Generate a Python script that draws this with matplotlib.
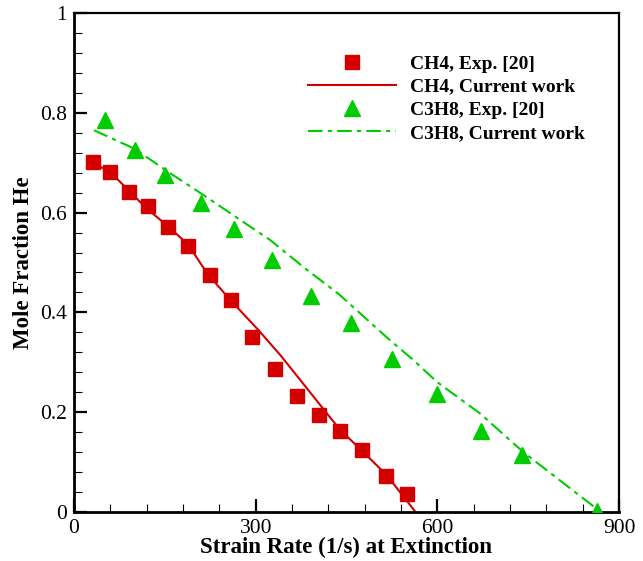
import matplotlib
matplotlib.use("Agg")
import matplotlib.pyplot as plt
from matplotlib.ticker import MultipleLocator

plt.rcParams['font.family'] = ['Liberation Serif', 'DejaVu Serif']

# CH4 experiment (squares)
ch4_exp_x = [31, 60, 91, 123, 156, 189, 224, 259, 294, 332, 369, 405, 440, 475, 515, 550]
ch4_exp_y = [0.701, 0.681, 0.642, 0.614, 0.571, 0.533, 0.475, 0.425, 0.351, 0.287,
             0.232, 0.194, 0.162, 0.125, 0.073, 0.037]

# CH4 current work (solid line)
ch4_cur_x = [31, 60, 90, 120, 157, 189, 220, 258, 305, 341, 374, 418, 440, 478, 517, 564]
ch4_cur_y = [0.700, 0.681, 0.645, 0.608, 0.571, 0.535, 0.478, 0.425, 0.364, 0.314,
             0.264, 0.197, 0.164, 0.120, 0.073, 0.0]

# C3H8 experiment (triangles)
c3h8_exp_x = [51, 100, 151, 209, 265, 327, 392, 458, 525, 599, 672, 740, 864]
c3h8_exp_y = [0.786, 0.725, 0.676, 0.619, 0.567, 0.506, 0.433, 0.378, 0.306, 0.237,
              0.162, 0.115, 0.003]

# C3H8 current work (dash-dot line)
c3h8_cur_x = [33, 100, 155, 209, 275, 324, 385, 437, 522, 561, 599, 671, 742, 870]
c3h8_cur_y = [0.765, 0.728, 0.682, 0.639, 0.585, 0.545, 0.485, 0.437, 0.344, 0.304,
              0.261, 0.197, 0.120, 0.0]

red = '#d40000'
green = '#00cc00'

fig = plt.figure(figsize=(6.43, 5.61), dpi=100)
ax = fig.add_axes([74 / 643, 1 - 512 / 561, 545 / 643, 499 / 561])

ax.plot(ch4_exp_x, ch4_exp_y, 's', color=red, ms=9.5, mec=red, label='CH4, Exp. [20]', zorder=3)
ax.plot(ch4_cur_x, ch4_cur_y, '-', color=red, lw=1.5, label='CH4, Current work')
ax.plot(c3h8_exp_x, c3h8_exp_y, '^', color=green, ms=11, mec=green, label='C3H8, Exp. [20]', zorder=3)
ax.plot(c3h8_cur_x, c3h8_cur_y, color=green, lw=1.5, dashes=(7, 2.5, 2, 2.5),
        label='C3H8, Current work')

ax.set_xlim(0, 900)
ax.set_ylim(0, 1)
ax.xaxis.set_major_locator(MultipleLocator(300))
ax.xaxis.set_minor_locator(MultipleLocator(60))
ax.yaxis.set_major_locator(MultipleLocator(0.2))
ax.yaxis.set_minor_locator(MultipleLocator(0.04))
ax.yaxis.set_major_formatter(plt.FuncFormatter(lambda v, p: f'{round(v, 1):g}'))

ax.tick_params(which='both', direction='in', top=False, right=False, labelsize=15.5)
ax.tick_params(which='major', length=9.5, width=1.6, pad=5)
ax.tick_params(which='minor', length=5.8, width=0.8)

for s in ['left', 'bottom']:
    ax.spines[s].set_linewidth(2.0)
for s in ['top', 'right']:
    ax.spines[s].set_linewidth(1.6)

ax.set_xlabel('Strain Rate (1/s) at Extinction', fontsize=16.5, fontweight='bold', labelpad=-1)
ax.set_ylabel('Mole Fraction He', fontsize=16.5, fontweight='bold', labelpad=4)

ax.legend(loc='upper left', bbox_to_anchor=(308 / 643, 1 - 55 / 561), bbox_transform=fig.transFigure,
          frameon=False, prop={'weight': 'bold', 'size': 14}, handlelength=4.5,
          handletextpad=0.75, labelspacing=0.28, borderpad=0, borderaxespad=0, numpoints=1)

fig.savefig('out.png', dpi=100)
